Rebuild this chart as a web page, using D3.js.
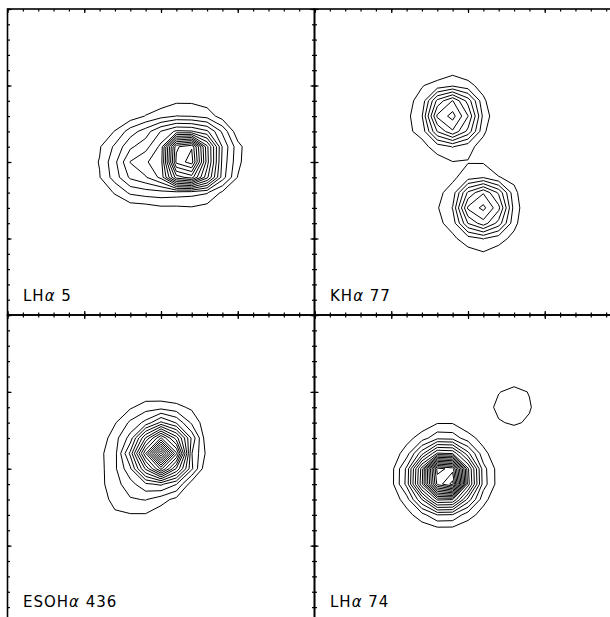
<!DOCTYPE html>
<html>
<head>
<meta charset="utf-8">
<script src="https://cdn.jsdelivr.net/npm/d3@7"></script>
<style>
  body { margin: 0; background: #fff; }
  svg { display: block; }
</style>
</head>
<body>
<svg id="chart" width="610" height="617"></svg>
<script>
// Panel labels, in reading order (top-left, top-right, bottom-left, bottom-right)
const panelLabels = ["LHα 5", "KHα 77", "ESOHα 436", "LHα 74"];

// Hα surface brightness on a 21 x 21 sample grid (one sample per minor tick).
// Each block holds the non-empty window; its origin is [first column, first row].
const lha5Origin = [4, 5];
const lha5Flux = [
  [0, 0, 0, 0, 0, 0, 0.1, 0.1, 0.1, 0, 0, 0, 0],
  [0, 0, 0, 0, 0, 0.2, 0.4, 0.8, 0.8, 0.5, 0.1, 0, 0],
  [0, 0, 0, 0.1, 0.4, 1.05, 1.6, 2.02, 1.95, 1.6, 0.5, 0.1, 0],
  [0, 0, 0.3, 1.05, 2.5, 3.5, 5.05, 6.2, 6.1, 5.2, 2.8, 0.3, 0],
  [0, 0.2, 0.9, 2.2, 3.8, 4.6, 6.3, 14.8, 15.9, 9.3, 3.9, 1.4, 0],
  [0, 0.5, 1.05, 2.75, 5.05, 5.9, 6.5, 15.3, 16.5, 9.5, 3.7, 1.3, 0],
  [0, 0.3, 0.95, 2.5, 4.2, 4.9, 6.3, 11.5, 12.5, 8.3, 3.5, 0.95, 0],
  [0, 0, 0.3, 1.1, 2.2, 2.5, 2.6, 2.5, 2.35, 2.1, 0.8, 0.1, 0],
  [0, 0, 0, 0.2, 0.4, 0.5, 0.8, 0.8, 0.9, 0.6, 0.1, 0, 0],
  [0, 0, 0, 0, 0, 0, 0, 0.1, 0.2, 0, 0, 0, 0]
];

const kha77Origin = [5, 4];
const kha77Flux = [
  [0, 0, 0.1, 0.4, 0.6, 0.4, 0.1, 0, 0, 0, 0],
  [0, 0.1, 0.95, 1.3, 1.8, 1.3, 0.6, 0, 0, 0, 0],
  [0, 0.75, 1.3, 5.3, 7.05, 4.6, 1.2, 0, 0, 0, 0],
  [0, 0.7, 1.9, 7.2, 8.4, 6.03, 1.7, 0, 0, 0, 0],
  [0, 0.8, 1.3, 5.05, 6.86, 4.7, 1.2, 0, 0, 0, 0],
  [0, 0.1, 0.7, 1.4, 2.05, 1.3, 0.6, 0, 0, 0, 0],
  [0, 0, 0.2, 0.6, 0.97, 0.95, 0.9, 0.3, 0.1, 0, 0],
  [0, 0, 0, 0.2, 0.8, 1.5, 1.9, 1.05, 0.7, 0.1, 0],
  [0, 0, 0, 0.75, 1.4, 5.2, 6.9, 4.8, 1.3, 0, 0],
  [0, 0, 0, 0.9, 2.05, 7.2, 8.3, 6.3, 1.6, 0, 0],
  [0, 0, 0, 0.75, 1.4, 5.05, 6.6, 4.6, 1.3, 0, 0],
  [0, 0, 0, 0.2, 0.8, 1.5, 2.05, 1.4, 0.7, 0.1, 0],
  [0, 0, 0, 0, 0.2, 0.6, 0.84, 0.5, 0.1, 0, 0]
];

const eso436Origin = [5, 5];
const eso436Flux = [
  [0, 0, 0, 0, 0.2, 0.1, 0.1, 0, 0, 0],
  [0, 0, 0.1, 0.85, 1.5, 1.6, 1.3, 0.8, 0, 0],
  [0, 0, 0.9, 2.2, 3.3, 5.2, 3.9, 1.8, 0.3, 0],
  [0, 0.3, 1.6, 3.4, 8.1, 12.1, 8.5, 3.8, 0.2, 0],
  [0, 0.76, 1.65, 5.25, 11.9, 19.3, 12.2, 3.05, 0.7, 0],
  [0, 0.65, 1.8, 3.8, 8.2, 12.3, 7.9, 3.2, 0, 0],
  [0, 0.7, 1.6, 2.6, 3.8, 4.2, 3.05, 0.4, 0, 0],
  [0, 0.4, 1.4, 1.9, 2.05, 1.4, 0.7, 0, 0, 0],
  [0, 0, 0.8, 0.92, 0.91, 0.4, 0, 0, 0, 0],
  [0, 0, 0.1, 0.2, 0.1, 0, 0, 0, 0, 0]
];

const lha74Origin = [3, 4];
const lha74Flux = [
  [0, 0, 0, 0, 0, 0, 0, 0, 0, 0.2, 0.4, 0.2, 0],
  [0, 0, 0, 0, 0, 0, 0, 0, 0.2, 0.95, 1.3, 0.95, 0.2],
  [0, 0, 0, 0, 0, 0, 0, 0, 0.4, 1.3, 1.6, 1.1, 0.3],
  [0, 0, 0, 0.1, 0.3, 0.9, 0.9, 0.3, 0.3, 0.9, 1.15, 0.85, 0.2],
  [0, 0, 0.1, 0.6, 1.5, 2.7, 2.6, 1.4, 0.6, 0.2, 0.3, 0.1, 0],
  [0, 0, 0.3, 1.5, 4.6, 8.1, 7.9, 4.3, 1.3, 0.3, 0, 0, 0],
  [0, 0, 0.6, 3.2, 9.5, 19.4, 18.6, 8.2, 2.4, 0.5, 0, 0, 0],
  [0, 0, 0.6, 3.3, 9.8, 18.3, 20.4, 8.5, 2.5, 0.5, 0, 0, 0],
  [0, 0, 0.3, 1.5, 5.0, 9.2, 9.05, 4.6, 1.3, 0.3, 0, 0, 0],
  [0, 0, 0.1, 0.6, 1.6, 3.0, 2.9, 1.4, 0.6, 0.1, 0, 0, 0],
  [0, 0, 0, 0.1, 0.3, 0.5, 0.5, 0.3, 0.1, 0, 0, 0, 0]
];

// Contour levels, one flux unit apart
const contourLevels = d3.range(1, 31);

// Tick positions along each side, in grid steps
const minorTicks = d3.range(0, 21);
const majorTicks = d3.range(0, 21, 5);

const panels = [
  { label: panelLabels[0], origin: lha5Origin, flux: lha5Flux },
  { label: panelLabels[1], origin: kha77Origin, flux: kha77Flux },
  { label: panelLabels[2], origin: eso436Origin, flux: eso436Flux },
  { label: panelLabels[3], origin: lha74Origin, flux: lha74Flux }
];

const GRID = 21, STEPS = 20;
const panelW = 307;
const colX = [7.5, 314.5];
const rowY = [9, 315], rowH = [306, 307.5];

const svg = d3.select("#chart");

function fillGrid(origin, block) {
  const values = new Array(GRID * GRID).fill(0);
  block.forEach((row, dj) => row.forEach((v, di) => {
    values[(origin[1] + dj) * GRID + origin[0] + di] = v;
  }));
  return values;
}

panels.forEach((p, k) => {
  const r = Math.floor(k / 2);
  const x0 = colX[k % 2], y0 = rowY[r], panelH = rowH[r];
  const xs = d3.scaleLinear().domain([0, STEPS]).range([x0, x0 + panelW]);
  const ys = d3.scaleLinear().domain([0, STEPS]).range([y0, y0 + panelH]);
  const g = svg.append("g");

  // contour map
  const values = fillGrid(p.origin, p.flux);
  const rings = d3.contours().size([GRID, GRID]).thresholds(contourLevels)(values)
    .filter(c => c.coordinates.length > 0);
  const toPanel = d3.geoTransform({
    point(x, y) { this.stream.point(xs(x - 0.5), ys(y - 0.5)); }
  });
  g.append("g").selectAll("path")
    .data(rings)
    .join("path")
    .attr("d", d3.geoPath(toPanel))
    .attr("fill", "none")
    .attr("stroke", "#000")
    .attr("stroke-width", 1)
    .attr("stroke-linejoin", "round");

  // frame
  g.append("rect")
    .attr("x", x0).attr("y", y0)
    .attr("width", panelW).attr("height", panelH)
    .attr("fill", "none").attr("stroke", "#000").attr("stroke-width", 1.6);

  // inward ticks on all four sides
  const sides = [
    [d3.axisBottom(xs), `translate(0,${y0})`],
    [d3.axisTop(xs), `translate(0,${y0 + panelH})`],
    [d3.axisRight(ys), `translate(${x0},0)`],
    [d3.axisLeft(ys), `translate(${x0 + panelW},0)`]
  ];
  sides.forEach(([axis, tr]) => {
    [[minorTicks, 2.5], [majorTicks, 4]].forEach(([vals, len]) => {
      g.append("g")
        .attr("transform", tr)
        .call(axis.tickValues(vals).tickSize(len).tickSizeOuter(0).tickFormat(() => ""))
        .call(a => a.select(".domain").remove())
        .call(a => a.selectAll("line").attr("stroke", "#000").attr("stroke-width", 1.2));
    });
  });

  // label
  const parts = p.label.split("α");
  const t = g.append("text")
    .attr("x", x0 + 15.5)
    .attr("y", y0 + 292)
    .attr("font-family", "DejaVu Sans, sans-serif")
    .attr("font-size", 15)
    .attr("letter-spacing", 1)
    .attr("fill", "#000");
  t.append("tspan").text(parts[0]);
  t.append("tspan").attr("font-style", "italic").text("α");
  t.append("tspan").text(parts[1]);
});
</script>
</body>
</html>
